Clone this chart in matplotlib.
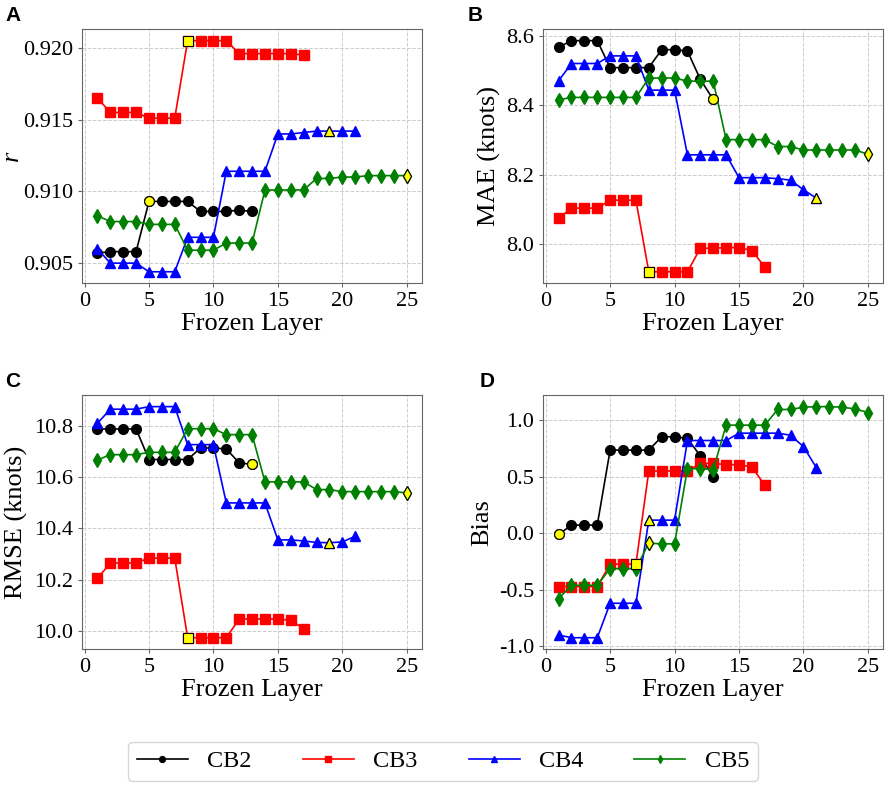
import numpy as np
import matplotlib
matplotlib.use('Agg')
import matplotlib.pyplot as plt
from matplotlib.ticker import FormatStrFormatter, MultipleLocator

plt.rcParams['font.family'] = ['Liberation Serif', 'DejaVu Serif']
plt.rcParams['axes.unicode_minus'] = False

# frozen layers for each model
layers_cb2 = list(range(1, 14))
layers_cb3 = list(range(1, 18))
layers_cb4 = list(range(1, 22))
layers_cb5 = list(range(1, 26))

# correlation r
r_cb2 = [0.9057, 0.9058, 0.9058, 0.9058, 0.9093, 0.9093, 0.9093, 0.9093, 0.9086, 0.9086, 0.9086, 0.9087, 0.9086]
r_cb3 = [0.9165, 0.9155, 0.9155, 0.9155, 0.9151, 0.9151, 0.9151, 0.9205, 0.9205, 0.9205, 0.9205,
         0.9196, 0.9196, 0.9196, 0.9196, 0.9196, 0.9195]
r_cb4 = [0.9060, 0.9050, 0.9050, 0.9050, 0.9044, 0.9044, 0.9044, 0.9068, 0.9068, 0.9068, 0.9114,
         0.9114, 0.9114, 0.9114, 0.9140, 0.9140, 0.9141, 0.9142, 0.9142, 0.9142, 0.9142]
r_cb5 = [0.9083, 0.9079, 0.9079, 0.9079, 0.9077, 0.9077, 0.9077, 0.9059, 0.9059, 0.9059, 0.9064,
         0.9064, 0.9064, 0.9101, 0.9101, 0.9101, 0.9101, 0.9109, 0.9109, 0.9110, 0.9110, 0.9111,
         0.9111, 0.9111, 0.9111]

# MAE (knots)
mae_cb2 = [8.568, 8.587, 8.587, 8.587, 8.509, 8.509, 8.509, 8.509, 8.561, 8.561, 8.557, 8.475, 8.417]
mae_cb3 = [8.073, 8.103, 8.103, 8.103, 8.126, 8.126, 8.126, 7.919, 7.919, 7.919, 7.919,
           7.987, 7.987, 7.989, 7.989, 7.980, 7.933]
mae_cb4 = [8.471, 8.521, 8.521, 8.521, 8.543, 8.543, 8.543, 8.444, 8.444, 8.444, 8.257,
           8.257, 8.257, 8.257, 8.191, 8.191, 8.191, 8.188, 8.184, 8.156, 8.132]
mae_cb5 = [8.416, 8.423, 8.423, 8.423, 8.423, 8.423, 8.423, 8.479, 8.479, 8.479, 8.470,
           8.470, 8.470, 8.301, 8.301, 8.301, 8.301, 8.281, 8.281, 8.271, 8.271, 8.271,
           8.271, 8.271, 8.259]

# RMSE (knots)
rmse_cb2 = [10.787, 10.787, 10.787, 10.787, 10.668, 10.668, 10.668, 10.668, 10.713, 10.713, 10.709, 10.655, 10.649]
rmse_cb3 = [10.205, 10.265, 10.265, 10.265, 10.284, 10.284, 10.284, 9.974, 9.974, 9.974, 9.974,
            10.047, 10.047, 10.047, 10.047, 10.042, 10.009]
rmse_cb4 = [10.809, 10.864, 10.864, 10.864, 10.874, 10.874, 10.874, 10.726, 10.726, 10.726, 10.499,
            10.499, 10.499, 10.499, 10.355, 10.355, 10.351, 10.345, 10.344, 10.347, 10.369]
rmse_cb5 = [10.666, 10.687, 10.687, 10.687, 10.696, 10.696, 10.696, 10.788, 10.788, 10.788, 10.765,
            10.765, 10.765, 10.581, 10.581, 10.581, 10.581, 10.551, 10.551, 10.543, 10.543, 10.543,
            10.543, 10.543, 10.538]

# Bias
bias_cb2 = [-0.012, 0.071, 0.071, 0.071, 0.735, 0.735, 0.735, 0.735, 0.853, 0.853, 0.838, 0.684, 0.496]
bias_cb3 = [-0.473, -0.473, -0.473, -0.473, -0.275, -0.275, -0.275, 0.550, 0.550, 0.550, 0.550,
            0.618, 0.618, 0.606, 0.606, 0.586, 0.423]
bias_cb4 = [-0.902, -0.926, -0.926, -0.926, -0.621, -0.621, -0.621, 0.115, 0.115, 0.115, 0.820,
            0.820, 0.820, 0.820, 0.885, 0.885, 0.885, 0.885, 0.867, 0.766, 0.580]
bias_cb5 = [-0.580, -0.462, -0.462, -0.462, -0.314, -0.314, -0.314, -0.089, -0.095, -0.095, 0.571,
            0.571, 0.562, 0.956, 0.956, 0.956, 0.956, 1.095, 1.095, 1.115, 1.120, 1.120,
            1.115, 1.100, 1.068]

names = ['CB2', 'CB3', 'CB4', 'CB5']
colors = ['black', 'red', 'blue', 'green']
markers = ['o', 's', '^', 'd']
layers = [layers_cb2, layers_cb3, layers_cb4, layers_cb5]

# best layer (yellow marker) per panel and model
best_r = [5, 8, 19, 25]
best_mae = [13, 8, 21, 25]
best_rmse = [13, 8, 19, 25]
best_bias = [1, 7, 8, 8]

panels = [
    ('A', 'r', [r_cb2, r_cb3, r_cb4, r_cb5], best_r, '%.3f', 0.005),
    ('B', 'MAE (knots)', [mae_cb2, mae_cb3, mae_cb4, mae_cb5], best_mae, '%.1f', 0.2),
    ('C', 'RMSE (knots)', [rmse_cb2, rmse_cb3, rmse_cb4, rmse_cb5], best_rmse, '%.1f', 0.2),
    ('D', 'Bias', [bias_cb2, bias_cb3, bias_cb4, bias_cb5], best_bias, '%.1f', 0.5),
]

fig = plt.figure(figsize=(8.86, 7.87), dpi=100)
boxes = [
    [0.0925, 0.640, 0.384, 0.323],
    [0.613, 0.640, 0.384, 0.323],
    [0.0925, 0.175, 0.384, 0.323],
    [0.613, 0.175, 0.384, 0.323],
]
letter_pos = [(0.006, 0.992), (0.528, 0.992), (0.006, 0.527), (0.541, 0.527)]

handles = []
for k, (letter, ylab, series, best, fmt, step) in enumerate(panels):
    ax = fig.add_axes(boxes[k])
    for i in range(4):
        h, = ax.plot(layers[i], series[i], marker=markers[i], color=colors[i],
                     markersize=7, linewidth=1.2, label=names[i])
        if k == 0:
            handles.append(h)
        j = layers[i].index(best[i])
        ax.plot(layers[i][j], series[i][j], marker=markers[i], linestyle='none',
                markersize=7, markerfacecolor='yellow', markeredgecolor='black',
                markeredgewidth=0.8, zorder=5)
    ax.grid(True, linestyle='--', color='#cccccc', linewidth=0.7)
    ax.set_axisbelow(True)
    for s in ax.spines.values():
        s.set_color('#666666')
    ax.xaxis.set_major_locator(MultipleLocator(5))
    ax.yaxis.set_major_locator(MultipleLocator(step))
    ax.yaxis.set_major_formatter(FormatStrFormatter(fmt))
    ax.tick_params(labelsize=16, length=3, color='#666666')
    ax.set_xlabel('Frozen Layer', fontsize=19, labelpad=1)
    if ylab == 'r':
        ax.set_ylabel(ylab, fontsize=19, style='italic', labelpad=0)
    else:
        ax.set_ylabel(ylab, fontsize=19)
    fig.text(letter_pos[k][0], letter_pos[k][1], letter, fontsize=15, fontweight='bold',
             family='Liberation Sans', va='top', ha='left')

leg = fig.legend(handles=handles, loc='center', bbox_to_anchor=(0.5, 0.033), ncol=4,
                 fontsize=17.5, markerscale=0.6, columnspacing=2.1, handlelength=2.1,
                 handletextpad=0.8, frameon=True, fancybox=True, borderpad=0.35)
leg.get_frame().set_edgecolor('#cccccc')

fig.savefig('out.png', dpi=100)
